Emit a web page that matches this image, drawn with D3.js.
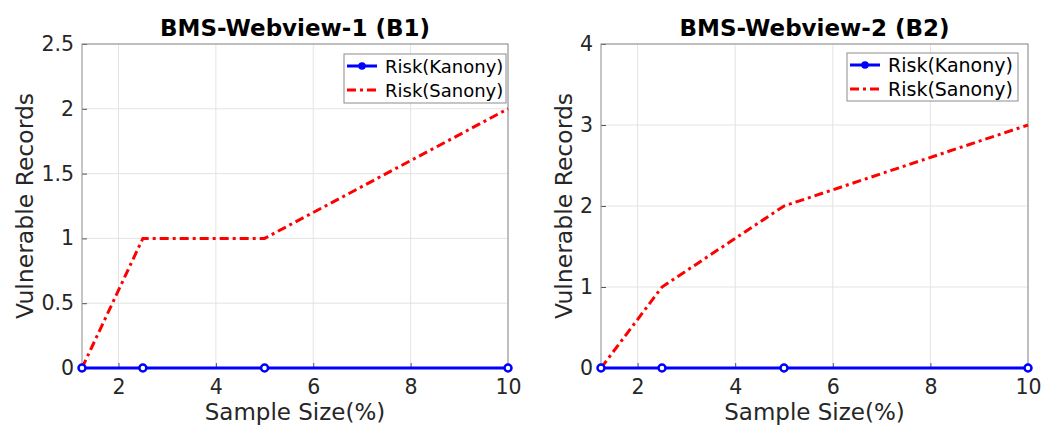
<!DOCTYPE html>
<html>
<head>
<meta charset="utf-8">
<script src="https://cdn.jsdelivr.net/npm/d3@7"></script>
<style>
  body { margin: 0; background: #fff; }
  text { font-family: "DejaVu Sans", sans-serif; }
</style>
</head>
<body>
<svg id="chart" width="1059" height="428"></svg>
<script>
// sample sizes (%)
const sampleSizes = [1.25, 2.5, 5, 10];
const kanonyB1 = [0, 0, 0, 0];
const sanonyB1 = [0, 1, 1, 2];
const kanonyB2 = [0, 0, 0, 0];
const sanonyB2 = [0, 1, 2, 3];
const xTicks = [2, 4, 6, 8, 10];
const yTicksB1 = [0, 0.5, 1, 1.5, 2, 2.5];
const yTicksB2 = [0, 1, 2, 3, 4];

const panels = [
  { title: "BMS-Webview-1 (B1)", left: 82, right: 508, kanony: kanonyB1, sanony: sanonyB1, yMax: 2.5, yTicks: yTicksB1,
    legend: { x: 344, y: 54, w: 162, h: 49, font: 18 }, yLabelX: 33 },
  { title: "BMS-Webview-2 (B2)", left: 601, right: 1028, kanony: kanonyB2, sanony: sanonyB2, yMax: 4, yTicks: yTicksB2,
    legend: { x: 847, y: 53, w: 171, h: 48, font: 19 }, yLabelX: 572 }
];

const plotTop = 44, plotBottom = 368;
const svg = d3.select("#chart");

panels.forEach(function(p) {
  const x = d3.scaleLinear().domain([1.25, 10]).range([p.left, p.right]);
  const y = d3.scaleLinear().domain([0, p.yMax]).range([plotBottom, plotTop]);
  const g = svg.append("g");

  // grid
  g.selectAll(".vgrid").data(xTicks).join("line")
    .attr("x1", d => x(d)).attr("x2", d => x(d))
    .attr("y1", plotTop).attr("y2", plotBottom)
    .attr("stroke", "#e3e3e3").attr("stroke-width", 1);
  g.selectAll(".hgrid").data(p.yTicks).join("line")
    .attr("x1", p.left).attr("x2", p.right)
    .attr("y1", d => y(d)).attr("y2", d => y(d))
    .attr("stroke", "#e3e3e3").attr("stroke-width", 1);

  // axes
  const xAxis = g.append("g")
    .attr("transform", `translate(0,${plotBottom})`)
    .call(d3.axisBottom(x).tickValues(xTicks).tickSize(-5).tickPadding(11).tickFormat(d3.format("d")));
  const yAxis = g.append("g")
    .attr("transform", `translate(${p.left},0)`)
    .call(d3.axisLeft(y).tickValues(p.yTicks).tickSize(-5).tickPadding(8).tickFormat(d => d3.format("")(d)));
  [xAxis, yAxis].forEach(function(a) {
    a.select(".domain").remove();
    a.selectAll(".tick line").attr("stroke", "#555");
    a.selectAll(".tick text").attr("fill", "#262626").style("font-size", "20.5px")
      .style("font-family", "DejaVu Sans, sans-serif");
  });

  // box
  g.append("rect")
    .attr("x", p.left).attr("y", plotTop)
    .attr("width", p.right - p.left).attr("height", plotBottom - plotTop)
    .attr("fill", "none").attr("stroke", "#8c8c8c").attr("stroke-width", 1);

  // lines
  const line = d3.line().x((d, i) => x(sampleSizes[i])).y(d => y(d));
  g.append("path").datum(p.sanony)
    .attr("d", line)
    .attr("fill", "none").attr("stroke", "#ff0000").attr("stroke-width", 3)
    .attr("stroke-dasharray", "9,4,3,4");

  g.append("path").datum(p.kanony)
    .attr("d", line)
    .attr("fill", "none").attr("stroke", "#0000ff").attr("stroke-width", 3);
  g.selectAll(".mk").data(p.kanony).join("circle")
    .attr("cx", (d, i) => x(sampleSizes[i])).attr("cy", d => y(d))
    .attr("r", 3.5).attr("fill", "#fff").attr("stroke", "#0000ff").attr("stroke-width", 2.5);

  // title
  g.append("text")
    .attr("x", (p.left + p.right) / 2).attr("y", 36)
    .attr("text-anchor", "middle")
    .style("font-size", "23px").style("font-weight", "bold")
    .attr("fill", "#000")
    .text(p.title);

  // axis labels
  g.append("text")
    .attr("x", (p.left + p.right) / 2).attr("y", 420)
    .attr("text-anchor", "middle")
    .style("font-size", "23px").attr("fill", "#262626")
    .text("Sample Size(%)");
  g.append("text")
    .attr("transform", `translate(${p.yLabelX},${(plotTop + plotBottom) / 2}) rotate(-90)`)
    .attr("text-anchor", "middle")
    .style("font-size", "23.5px").attr("fill", "#262626")
    .text("Vulnerable Records");

  // legend
  const L = p.legend;
  const lg = g.append("g");
  lg.append("rect").attr("x", L.x).attr("y", L.y).attr("width", L.w).attr("height", L.h)
    .attr("fill", "#fff").attr("stroke", "#8c8c8c").attr("stroke-width", 1);
  const rowY = [L.y + 12, L.y + 36];
  lg.append("line").attr("x1", L.x + 3).attr("x2", L.x + 33).attr("y1", rowY[0]).attr("y2", rowY[0])
    .attr("stroke", "#0000ff").attr("stroke-width", 3);
  lg.append("circle").attr("cx", L.x + 18).attr("cy", rowY[0]).attr("r", 3)
    .attr("fill", "#0000ff").attr("stroke", "#0000ff").attr("stroke-width", 1.5);
  lg.append("line").attr("x1", L.x + 3).attr("x2", L.x + 33).attr("y1", rowY[1]).attr("y2", rowY[1])
    .attr("stroke", "#ff0000").attr("stroke-width", 3).attr("stroke-dasharray", "9,4,3,4");
  ["Risk(Kanony)", "Risk(Sanony)"].forEach(function(t, i) {
    lg.append("text").attr("x", L.x + 41).attr("y", rowY[i] + 6.5)
      .style("font-size", L.font + "px").attr("fill", "#000").text(t);
  });
});
</script>
</body>
</html>
